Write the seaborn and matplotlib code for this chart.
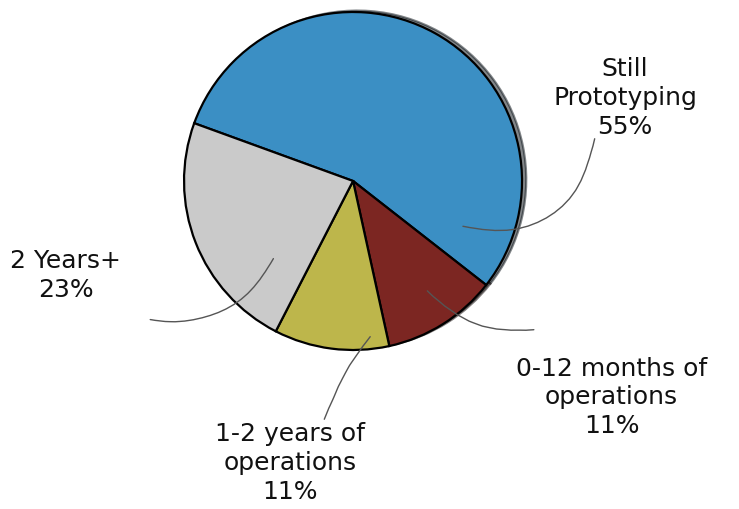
import matplotlib
matplotlib.use("Agg")
import matplotlib.pyplot as plt
import seaborn as sns

# ---- data ----
categories = ["Still\nPrototyping", "0-12 months of\noperations", "1-2 years of\noperations", "2 Years+"]
shares = [55, 11, 11, 23]
colors = ["#3b8fc4", "#7c2622", "#bdb64b", "#cacaca"]

# label placement (data units, pie radius = 1)
label_pos = [(1.61, 0.49), (1.53, -1.28), (-0.37, -1.67), (-1.70, -0.56)]
line_start = [(1.43, 0.25), (1.07, -0.88), (-0.17, -1.41), (-1.20, -0.82)]
line_end = [(0.65, -0.27), (0.44, -0.65), (0.10, -0.92), (-0.47, -0.46)]
line_rad = [-0.5, -0.25, -0.08, 0.35]

sns.set_style("white")
plt.rcParams["font.family"] = ["DejaVu Sans"]

fig = plt.figure(figsize=(7.39, 5.09), dpi=100)
ax = fig.add_axes([0, 0, 1, 1])

wedges, _ = ax.pie(
    shares,
    colors=colors,
    startangle=160,
    counterclock=False,
    radius=1.0,
    wedgeprops=dict(edgecolor="black", linewidth=1.6),
    shadow=dict(ox=0.018, oy=0.006, shade=0.9),
)

for cat, v, (tx, ty), (sx, sy), (ex, ey), rad in zip(
    categories, shares, label_pos, line_start, line_end, line_rad
):
    ax.text(tx, ty, f"{cat}\n{v}%", ha="center", va="center",
            fontsize=18, linespacing=1.25, color="#111111")
    ann = ax.annotate("", xy=(ex, ey), xytext=(sx, sy),
                      arrowprops=dict(arrowstyle="-", color="#555555", lw=1.0,
                                      connectionstyle=f"arc3,rad={rad}",
                                      shrinkA=0, shrinkB=0))
    ann.arrow_patch.set_sketch_params(scale=0.35, length=80, randomness=2)

ax.set_xlim(-2.089, 2.284)
ax.set_ylim(-1.941, 1.071)
ax.set_aspect("auto")
ax.axis("off")

fig.savefig("out.png", dpi=100, facecolor="white")
